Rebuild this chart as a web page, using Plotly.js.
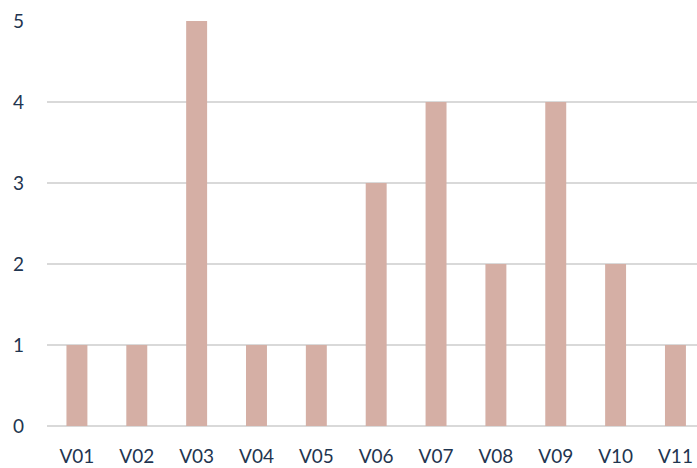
<!DOCTYPE html>
<html>
<head>
<meta charset="utf-8">
<script src="https://cdn.plot.ly/plotly-3.0.1.min.js"></script>
<style>html,body{margin:0;padding:0;background:#fff;}#chart{width:697px;height:468px;}</style>
</head>
<body>
<div id="chart"></div>
<script>
const categories = ["V01","V02","V03","V04","V05","V06","V07","V08","V09","V10","V11"];
const values = [1,1,5,1,1,3,4,2,4,2,1];
const yTicks = [0,1,2,3,4,5];

const fontFam = "Lato, 'Open Sans', sans-serif";
const textColor = "#1f3550";

Plotly.newPlot("chart", [{
  type: "bar",
  x: categories,
  y: values,
  marker: {color: "#d5afa5"},
  hoverinfo: "x+y"
}], {
  width: 697, height: 468,
  margin: {l: 47, r: 0, t: 21, b: 42},
  paper_bgcolor: "#fff", plot_bgcolor: "#fff",
  bargap: 0.65,
  showlegend: false,
  xaxis: {
    type: "category",
    range: [-0.5, 10.36],
    showgrid: false, zeroline: false, showline: false,
    ticks: "", ticklabelstandoff: 17,
    tickfont: {family: fontFam, size: 19, color: textColor}
  },
  yaxis: {
    range: [0, 5],
    tickvals: yTicks,
    showgrid: true, gridcolor: "#d9d9d9", gridwidth: 1.5,
    zeroline: true, zerolinecolor: "#d9d9d9", zerolinewidth: 1.5,
    showline: false, ticks: "", ticklabelstandoff: 22,
    tickfont: {family: fontFam, size: 19, color: textColor}
  }
}, {displayModeBar: false, staticPlot: true});
</script>
</body>
</html>
